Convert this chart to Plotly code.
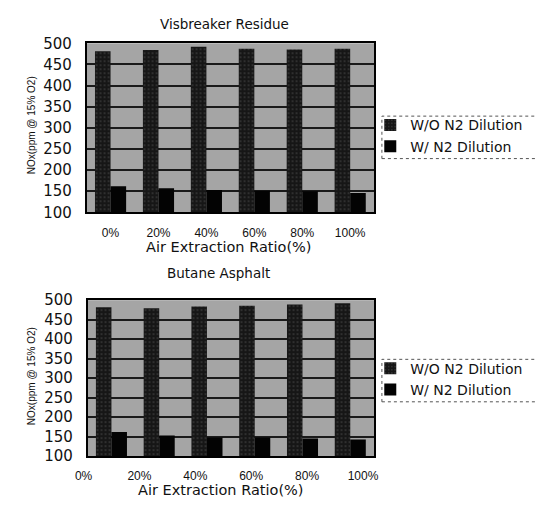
import plotly.graph_objects as go

categories = ["0%", "20%", "40%", "60%", "80%", "100%"]
vis_wo = [481, 484, 492, 487, 485, 487]
vis_w = [162, 157, 153, 151, 150, 146]
but_wo = [482, 479, 484, 486, 489, 492]
but_w = [162, 153, 148, 148, 145, 143]
bottom_ticks = ["0%", "20%", "40%", "60%", "80%", "100%"]

W, H = 535, 516
def px(x):
    return x / W
def py(y):
    return 1 - y / H

WO_COLOR = "#161616"
W_COLOR = "#030303"
BG = "#a5a5a5"
GRID = "#1a1a1a"
FONT = "DejaVu Sans"

wo_marker = dict(color=WO_COLOR, line=dict(width=0),
                 pattern=dict(shape=".", fgcolor="#5a5a5a", size=4, solidity=0.18))
w_marker = dict(color=W_COLOR, line=dict(width=0))

idx = list(range(len(categories)))

fig = go.Figure()
fig.add_trace(go.Bar(x=categories, y=vis_wo, name="W/O N2 Dilution", marker=wo_marker,
                     xaxis="x", yaxis="y", legend="legend"))
fig.add_trace(go.Bar(x=categories, y=vis_w, name="W/ N2 Dilution", marker=w_marker,
                     xaxis="x", yaxis="y", legend="legend"))
fig.add_trace(go.Bar(x=idx, y=but_wo, name="W/O N2 Dilution", marker=wo_marker,
                     xaxis="x2", yaxis="y2", legend="legend2"))
fig.add_trace(go.Bar(x=idx, y=but_w, name="W/ N2 Dilution", marker=w_marker,
                     xaxis="x2", yaxis="y2", legend="legend2"))

n = len(bottom_ticks)
lo, hi = -0.5, len(categories) - 0.5
step = (hi - lo - 0.15) / (n - 1)
tickvals2 = [lo + k * step for k in range(n)]

yax = dict(range=[100, 500], dtick=50, tick0=100, showgrid=True, gridcolor=GRID, gridwidth=1.5,
           showline=True, linecolor="#000", linewidth=1.5, mirror=True, zeroline=False,
           ticks="outside", ticklen=10, tickcolor="rgba(0,0,0,0)",
           tickfont=dict(family=FONT, size=15, color="#111"))
xcommon = dict(showline=True, linecolor="#000", linewidth=1.5, mirror=True, showgrid=False,
               zeroline=False, ticks="outside", ticklen=8, tickcolor="rgba(0,0,0,0)",
               tickfont=dict(family="Liberation Sans", size=12, color="#111"))

leg_common = dict(xanchor="left", yanchor="top", bgcolor="rgba(0,0,0,0)",
                  borderwidth=0, font=dict(family=FONT, size=14, color="#111"),
                  tracegroupgap=0)

fig.update_layout(
    width=W, height=H, autosize=False,
    margin=dict(l=0, r=0, t=0, b=0),
    paper_bgcolor="white", plot_bgcolor=BG,
    barmode="group", bargap=0.35, bargroupgap=0,
    xaxis=dict(domain=[px(76), px(373)], anchor="y", type="category", **xcommon),
    yaxis=dict(domain=[py(210.7), py(35.5)], anchor="x", **yax),
    xaxis2=dict(domain=[px(77), px(373)], anchor="y2", range=[lo, hi],
                tickmode="array", tickvals=tickvals2, ticktext=bottom_ticks,
                ticklabelshift=-4, **xcommon),
    yaxis2=dict(domain=[py(463.3), py(301.7)], anchor="x2", **yax),
    legend=dict(x=px(369), y=py(104), **leg_common),
    legend2=dict(x=px(369), y=py(356), **leg_common),
    showlegend=True,
)

# legend frames (open at the right edge as in the scanned figure)
for top, bot in [(111, 155), (363, 407)]:
    fig.add_shape(type="rect", xref="paper", yref="paper",
                  x0=px(381), x1=px(540), y0=py(bot), y1=py(top),
                  line=dict(color="#555", width=1, dash="dot"))

ann_font = dict(family=FONT, size=13.5, color="#111")
title_font = dict(family=FONT, size=14.5, color="#111")
ylab_font = dict(family="Liberation Sans", size=10, color="#111")
annotations = [
    dict(text="Visbreaker Residue", x=px(218), y=py(16), font=ann_font),
    dict(text="Air Extraction Ratio(%)", x=px(223), y=py(247), font=title_font),
    dict(text="Butane Asphalt", x=px(212), y=py(274), font=ann_font),
    dict(text="Air Extraction Ratio(%)", x=px(214), y=py(498), font=title_font),
    dict(text="NOx(ppm @ 15% O2)", x=px(19), y=py(120), textangle=-90, font=ylab_font),
    dict(text="NOx(ppm @ 15% O2)", x=px(19), y=py(380), textangle=-90, font=ylab_font),
]
for a in annotations:
    fig.add_annotation(xref="paper", yref="paper", showarrow=False,
                       xanchor="center", yanchor="middle", **a)

fig.write_html(
    "out.html",
    config={"displayModeBar": False},
    post_script="document.body.style.margin='0';document.documentElement.style.overflow='hidden';",
)
